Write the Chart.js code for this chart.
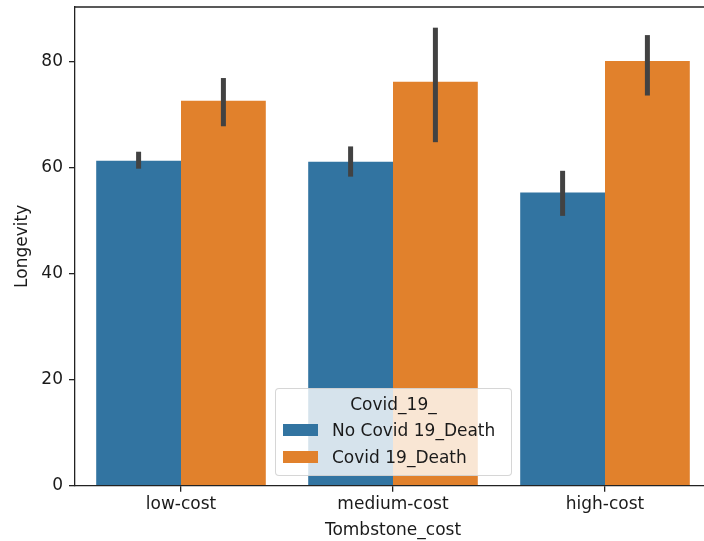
<!DOCTYPE html>
<html>
<head>
<meta charset="utf-8">
<script src="https://cdn.jsdelivr.net/npm/chart.js@4.4.1/dist/chart.umd.min.js"></script>
<style>
  html, body { margin: 0; padding: 0; background: #fff; overflow: hidden; width: 704px; height: 541px; }
  #wrap { position: relative; width: 720px; height: 541px; }
  #legend {
    position: absolute; left: 275px; top: 388px; width: 235px; height: 86px;
    background: rgba(255,255,255,0.8); border: 1px solid rgba(204,204,204,0.8); border-radius: 4px;
    font-family: 'DejaVu Sans', sans-serif; font-size: 17px; color: #1a1a1a;
  }
  #legend .title { position: absolute; left: 0; right: 0; top: 5px; text-align: center; }
  #legend .row { position: absolute; left: 7px; height: 20px; line-height: 20px; white-space: nowrap; }
  #legend .swatch { display: inline-block; width: 35px; height: 12px; vertical-align: middle; margin-right: 14px; position: relative; top: -1px; }
</style>
</head>
<body>
<div id="wrap">
  <canvas id="chart"></canvas>
  <div id="legend"></div>
</div>
<script>
const categories = ['low-cost', 'medium-cost', 'high-cost'];
const seriesNames = ['No Covid 19_Death', 'Covid 19_Death'];
const noCovidMean = [61.3, 61.1, 55.3];
const noCovidLow = [59.8, 58.3, 50.9];
const noCovidHigh = [63.0, 64.0, 59.4];
const covidMean = [72.6, 76.2, 80.1];
const covidLow = [67.8, 64.8, 73.6];
const covidHigh = [76.9, 86.4, 85.0];
const yTicks = [0, 20, 40, 60, 80];

const colors = ['#3274a1', '#e1812c'];
const errLow = [noCovidLow, covidLow];
const errHigh = [noCovidHigh, covidHigh];
const FONT = 'DejaVu Sans';

// seaborn style error bars + top spine
const errorBars = {
  id: 'errorBars',
  afterDatasetsDraw(chart) {
    const ctx = chart.ctx;
    const y = chart.scales.y;
    ctx.save();
    ctx.strokeStyle = '#424242';
    ctx.lineWidth = 5;
    chart.data.datasets.forEach((ds, i) => {
      const meta = chart.getDatasetMeta(i);
      meta.data.forEach((bar, j) => {
        ctx.beginPath();
        ctx.moveTo(bar.x, y.getPixelForValue(errLow[i][j]));
        ctx.lineTo(bar.x, y.getPixelForValue(errHigh[i][j]));
        ctx.stroke();
      });
    });
    const a = chart.chartArea;
    ctx.strokeStyle = '#222';
    ctx.lineWidth = 1.3;
    ctx.beginPath();
    ctx.moveTo(a.left, a.top);
    ctx.lineTo(a.right, a.top);
    ctx.stroke();
    ctx.restore();
  }
};

new Chart(document.getElementById('chart'), {
  type: 'bar',
  data: {
    labels: categories,
    datasets: [
      { label: seriesNames[0], data: noCovidMean, backgroundColor: colors[0] },
      { label: seriesNames[1], data: covidMean, backgroundColor: colors[1] }
    ]
  },
  options: {
    responsive: true,
    maintainAspectRatio: false,
    animation: false,
    devicePixelRatio: 1,
    categoryPercentage: 0.8,
    barPercentage: 1.0,
    layout: { padding: { top: 7, right: 9, left: 0, bottom: 0 } },
    plugins: { legend: { display: false }, tooltip: { enabled: false } },
    scales: {
      x: {
        grid: { display: true, offset: false, drawOnChartArea: false, tickLength: 6, color: '#222', lineWidth: 1.3 },
        border: { display: true, color: '#222', width: 1.3 },
        ticks: { color: '#1a1a1a', padding: 3, font: { family: FONT, size: 17 } },
        title: { display: true, text: 'Tombstone_cost', color: '#1a1a1a', padding: { top: 0, bottom: 0 }, font: { family: FONT, size: 17 } },
        afterFit(scale) { scale.height = 55.3; scale.paddingLeft = 0; scale.paddingRight = 0; }
      },
      y: {
        min: 0,
        max: 90.3,
        grid: { display: true, drawOnChartArea: false, tickLength: 6, color: '#222', lineWidth: 1.3 },
        border: { display: true, color: '#222', width: 1.3 },
        ticks: { stepSize: 20, color: '#1a1a1a', padding: 6, font: { family: FONT, size: 17 } },
        afterBuildTicks(scale) { scale.ticks = yTicks.map(v => ({ value: v })); },
        title: { display: true, text: 'Longevity', color: '#1a1a1a', padding: { top: 12, bottom: 0 }, font: { family: FONT, size: 17 } },
        afterFit(scale) { scale.width = 75; scale.paddingTop = 0; scale.paddingBottom = 0; }
      }
    }
  },
  plugins: [errorBars]
});

const legend = document.getElementById('legend');
legend.innerHTML = '<div class="title">Covid_19_</div>' + seriesNames.map((name, i) =>
  `<div class="row" style="top:${31 + i * 27}px"><span class="swatch" style="background:${colors[i]}"></span>${name}</div>`
).join('');
</script>
</body>
</html>
